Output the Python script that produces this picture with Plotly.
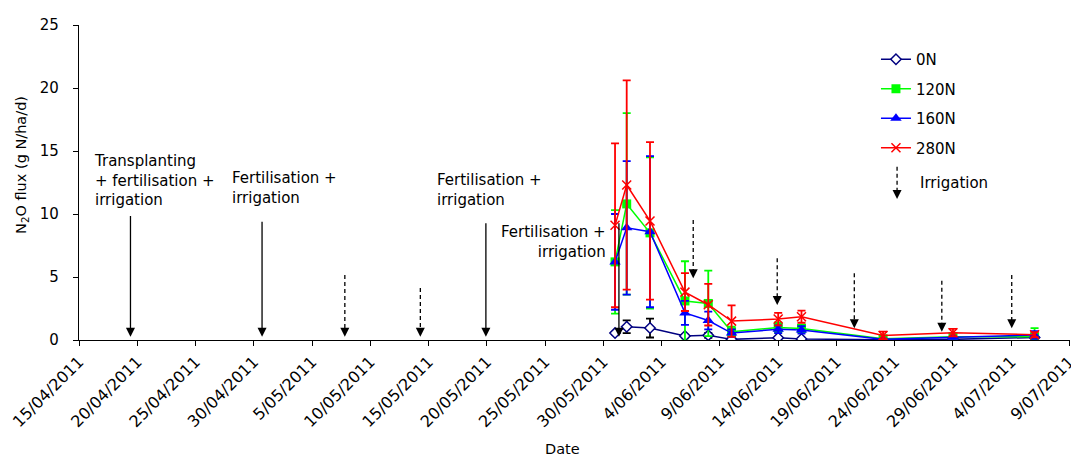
import plotly.graph_objects as go

# Sampling dates
dates = ["2011-05-31", "2011-06-01", "2011-06-03", "2011-06-06", "2011-06-08",
         "2011-06-10", "2011-06-14", "2011-06-16", "2011-06-23", "2011-06-29",
         "2011-07-06"]

# N2O flux (g N/ha/d) and standard errors per treatment
flux_0N = [0.55, 1.05, 0.95, 0.32, 0.37, 0.05, 0.18, 0.08, 0.02, 0.05, 0.2]
err_0N = [0.1, 0.5, 0.75, 0.1, 0.2, 0.05, 0.05, 0.05, 0.02, 0.03, 0.1]

flux_120N = [6.2, 10.8, 8.5, 3.1, 2.9, 0.65, 1.0, 0.92, 0.1, 0.25, 0.25]
err_120N = [4.1, 7.2, 6.0, 3.15, 2.6, 0.4, 0.4, 0.3, 0.1, 0.1, 0.7]

flux_160N = [6.2, 8.9, 8.6, 2.15, 1.55, 0.55, 0.85, 0.8, 0.05, 0.22, 0.4]
err_160N = [3.8, 5.3, 6.0, 0.95, 0.7, 0.3, 0.3, 0.3, 0.05, 0.1, 0.3]

flux_280N = [9.1, 12.3, 9.45, 3.8, 2.8, 1.5, 1.66, 1.85, 0.36, 0.58, 0.42]
err_280N = [6.5, 8.3, 6.25, 1.5, 1.65, 1.25, 0.5, 0.48, 0.3, 0.3, 0.2]

# Management events
fert_dates = ["2011-04-19 10:00", "2011-04-30 17:00", "2011-05-19 22:00", "2011-05-31 08:00"]
fert_labels = ["Transplanting<br>+ fertilisation +<br>irrigation",
               "Fertilisation +<br>irrigation",
               "Fertilisation +<br>irrigation",
               "Fertilisation +<br>irrigation"]
irrig_dates = ["2011-05-07 19:30", "2011-05-14 07:00", "2011-06-06 17:00",
               "2011-06-13 22:00", "2011-06-20 12:45", "2011-06-28 01:00",
               "2011-07-04 01:00"]

FONT = "DejaVu Sans"

fig = go.Figure()

series = [
    ("0N", flux_0N, err_0N, "#000080", "black",
     dict(symbol="diamond", size=8, color="white", line=dict(color="#000080", width=1.5))),
    ("120N", flux_120N, err_120N, "#00FF00", "#00FF00",
     dict(symbol="square", size=9, color="#00FF00")),
    ("160N", flux_160N, err_160N, "#0000FF", "#0000FF",
     dict(symbol="triangle-up", size=10, color="#0000FF")),
    ("280N", flux_280N, err_280N, "#FF0000", "#FF0000",
     dict(symbol="x-thin", size=9, color="#FF0000", line=dict(color="#FF0000", width=1.5))),
]

for i, (name, y, e, lc, ec, mk) in enumerate(series):
    fig.add_trace(go.Scatter(
        x=dates, y=y, name=name, mode="lines+markers",
        line=dict(color=lc, width=1.5), marker=mk,
        error_y=dict(type="data", array=e, visible=True, color=ec,
                     thickness=1.8, width=4),
        legendgroup=f"g{i}",
    ))

shapes = []
HEAD = "M -4.5 9 L 4.5 9 L 0 0 Z"
px_per_unit = 315 / 25.0


def add_arrow(x, y_top, y_tip, dashed, xref="x", yref="y", unit=px_per_unit):
    shapes.append(dict(type="line", xref=xref, yref=yref, x0=x, x1=x,
                       y0=y_top, y1=y_tip + 8.0 / unit,
                       line=dict(color="black", width=1.3,
                                 dash="4px,3px" if dashed else "solid")))
    shapes.append(dict(type="path", xref=xref, yref=yref,
                       xsizemode="pixel", ysizemode="pixel",
                       xanchor=x, yanchor=y_tip, path=HEAD,
                       fillcolor="black", line=dict(width=0)))


# fertiliser arrows (solid) and irrigation arrows (dashed)
fert_tops = [9.84, 9.39, 9.26, 9.26]
for d, top in zip(fert_dates, fert_tops):
    add_arrow(d, top, 0.26, False)

irrig_tops = [5.16, 4.13, 9.52, 6.48, 5.29, 4.71, 5.16]
irrig_tips = [0.26, 0.26, 4.9, 2.78, 0.93, 0.66, 0.93]
for d, top, tip in zip(irrig_dates, irrig_tops, irrig_tips):
    add_arrow(d, top, tip, True)

# legend key for irrigation
add_arrow(0.8255, (340 - 166.7) / 315, (340 - 199) / 315, True,
          xref="paper", yref="paper", unit=315)

annotations = []
label_pos = [(0.0138, 0.5048, "left"), (0.1534, 0.4841, "left"),
             (0.3599, 0.476, "left"), (0.5325, 0.312, "right")]
for txt, (ax_, ay_, al) in zip(fert_labels, label_pos):
    annotations.append(dict(xref="paper", yref="paper", x=ax_, y=ay_,
                            text=txt, showarrow=False, xanchor=al,
                            yanchor="middle", align=al, borderpad=0,
                            font=dict(family=FONT, size=15, color="black")))

annotations.append(dict(xref="paper", yref="paper", x=0.848, y=(340 - 183.3) / 315,
                        text="Irrigation", showarrow=False, xanchor="left",
                        yanchor="middle", borderpad=0,
                        font=dict(family=FONT, size=15, color="black")))
annotations.append(dict(xref="paper", yref="paper", x=-0.0575, y=0.556,
                        text="N<sub>2</sub>O flux (g N/ha/d)", textangle=-90,
                        showarrow=False, xanchor="center", yanchor="middle",
                        font=dict(family=FONT, size=14.5, color="black")))
annotations.append(dict(xref="paper", yref="paper", x=0.488, y=(340 - 449) / 315,
                        text="Date", showarrow=False, xanchor="center",
                        yanchor="middle", borderpad=0,
                        font=dict(family=FONT, size=14.5, color="black")))

fig.update_layout(
    width=1071, height=458,
    margin=dict(l=79, r=1, t=25, b=118, pad=0, autoexpand=False),
    paper_bgcolor="white", plot_bgcolor="white",
    font=dict(family=FONT, color="black"),
    showlegend=True,
    legend=dict(x=0.8042, y=(340 - 43) / 315, xanchor="left", yanchor="top",
                traceorder="grouped", tracegroupgap=7, bgcolor="rgba(0,0,0,0)",
                font=dict(family=FONT, size=15, color="black"),
                itemwidth=30),
    shapes=shapes,
    annotations=annotations,
    xaxis=dict(type="date", range=["2011-04-15", "2011-07-09 01:00"],
               tick0="2011-04-15", dtick=5 * 86400000,
               tickformat="%-d/%m/%Y", tickangle=-45,
               ticklabeloverflow="allow", automargin=False,
               ticks="outside", ticklen=5, tickcolor="black",
               showline=True, linecolor="black", linewidth=1.3,
               showgrid=False, zeroline=False,
               tickfont=dict(family=FONT, size=16, color="black")),
    yaxis=dict(range=[0, 25], dtick=5, ticks="outside", ticklen=5,
               tickcolor="black", showline=True, linecolor="black",
               linewidth=1.3, showgrid=False, zeroline=False,
               ticklabelstandoff=11, automargin=False,
               tickfont=dict(family=FONT, size=15, color="black")),
)

fig.write_html("out.html")
